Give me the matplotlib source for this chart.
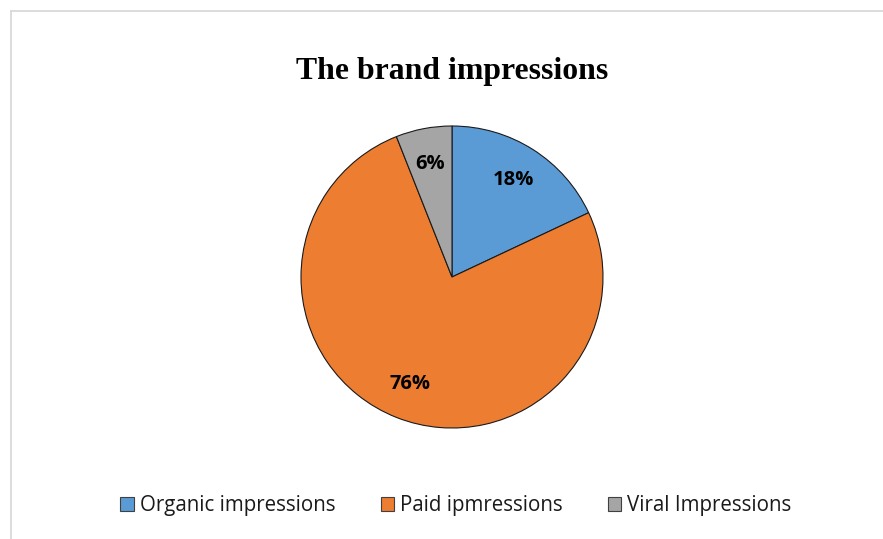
import matplotlib
matplotlib.use("Agg")
import matplotlib.pyplot as plt
from matplotlib.patches import Patch
from matplotlib.lines import Line2D

categories = ["Organic impressions", "Paid ipmressions", "Viral Impressions"]
values = [18, 76, 6]
colors = ["#5B9BD5", "#ED7D31", "#A5A5A5"]
title = "The brand impressions"

W, H = 883, 539
fig = plt.figure(figsize=(W / 100, H / 100), dpi=100)

# light gray chart border (top and left visible)
fig.add_artist(Line2D([11 / W, 1.0], [1 - 11 / H, 1 - 11 / H], color="#D9D9D9", lw=1.3, transform=fig.transFigure))
fig.add_artist(Line2D([11 / W, 11 / W], [0.0, 1 - 11 / H], color="#D9D9D9", lw=1.3, transform=fig.transFigure))

cx, cy, r = 452, H - 277, 151
pad = 1.1
ax = fig.add_axes([(cx - r * pad) / W, (cy - r * pad) / H, 2 * r * pad / W, 2 * r * pad / H])
wedges, texts, autotexts = ax.pie(
    values, colors=colors, startangle=90, counterclock=False,
    autopct=lambda p: f"{p:.0f}%", pctdistance=0.76,
    wedgeprops=dict(edgecolor="#1a1a1a", linewidth=0.8),
    textprops=dict(fontsize=14.5, fontweight="bold", family="Open Sans", color="black"),
)
ax.set_xlim(-pad, pad)
ax.set_ylim(-pad, pad)
ax.set_aspect("equal")
ax.axis("off")

fig.text(452 / W, 1 - 71 / H, title, ha="center", va="center", fontsize=22.9,
         fontweight="bold", family="Liberation Serif")

handles = [Patch(facecolor=c, edgecolor="#404040", linewidth=0.8) for c in colors]
leg = fig.legend(handles, categories, loc="center", bbox_to_anchor=(456 / W, 1 - 506 / H),
                 ncol=3, frameon=False, handlelength=0.65, handleheight=0.65,
                 handletextpad=0.3, columnspacing=2.2,
                 prop=dict(family="Open Sans", size=14.8))
for t in leg.get_texts():
    t.set_color("#1a1a1a")

fig.savefig("out.png", dpi=100, facecolor="white")
